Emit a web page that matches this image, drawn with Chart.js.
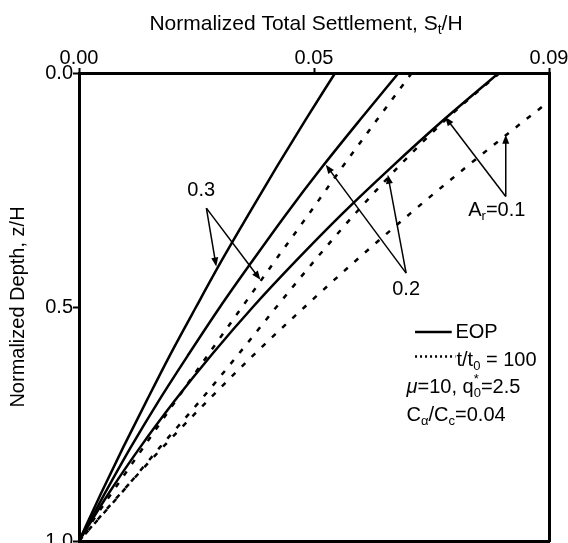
<!DOCTYPE html>
<html lang="en">
<head>
<meta charset="UTF-8">
<title>Normalized Total Settlement vs Depth</title>
<script src="https://cdn.jsdelivr.net/npm/chart.js"></script>
<style>
  body { margin: 0; background: #ffffff; }
  canvas { display: block; }
</style>
</head>
<body>
<canvas id="chart" width="568" height="543"></canvas>
<script>
// normalized depth z/H for every curve point
const depth = [0, 0.1, 0.2, 0.3, 0.4, 0.5, 0.6, 0.7, 0.8, 0.9, 1.0];

// EOP curves (solid), St/H
const eop03 = [0.0545, 0.0482, 0.0421, 0.0362, 0.0304, 0.0249, 0.0195, 0.0144, 0.0094, 0.0046, 0];
const eop02 = [0.0680, 0.0598, 0.0518, 0.0442, 0.0370, 0.0300, 0.0234, 0.0170, 0.0110, 0.0054, 0];
const eop01 = [0.0893, 0.0776, 0.0666, 0.0561, 0.0463, 0.0370, 0.0284, 0.0204, 0.0130, 0.0062, 0];

// t/t0 = 100 curves (dotted), St/H
const t100r03 = [0.0708, 0.0634, 0.0561, 0.0490, 0.0418, 0.0347, 0.0276, 0.0206, 0.0137, 0.0068, 0];
const t100r02 = [0.0895, 0.0780, 0.0680, 0.0588, 0.0502, 0.0420, 0.0340, 0.0258, 0.0172, 0.0088, 0];
const t100r01 = [0.1079, 0.0950, 0.0825, 0.0705, 0.0590, 0.0480, 0.0374, 0.0274, 0.0178, 0.0087, 0];

// axis ticks
const xTickValues = [0, 0.05, 0.1];
const xTickLabels = ['0.00', '0.05', '0.09'];
const yTickValues = [0, 0.5, 1];
const yTickLabels = ['0.0', '0.5', '1.0'];

const FONT = 'Liberation Sans, Arial, sans-serif';
Chart.defaults.font.family = FONT;
Chart.defaults.font.size = 20;
Chart.defaults.color = '#000';

function pairs(values) {
    return values.map((v, i) => ({ x: v, y: depth[i] }));
}

function curve(values, dotted) {
    return {
        data: pairs(values),
        showLine: true,
        borderColor: '#000',
        borderWidth: 2.5,
        borderDash: dotted ? [5, 9] : [],
        pointRadius: 0,
        cubicInterpolationMode: 'monotone',
        fill: false
    };
}

// callouts, in data units (St/H, z/H)
const callouts = [
    { label: [{ t: '0.3' }], at: [0.0260, 0.2506], from: [0.0271, 0.2887], tips: [[0.0292, 0.4135], [0.0386, 0.4420]] },
    { label: [{ t: '0.2' }], at: [0.0696, 0.4622], from: [0.0696, 0.4276], tips: [[0.0525, 0.1961], [0.0657, 0.2174]] },
    { label: [{ t: 'A' }, { t: 'r', sub: true }, { t: '=0.1' }], at: [0.0889, 0.2933], from: [0.0908, 0.2638], tips: [[0.0779, 0.0940], [0.0908, 0.1319]] }
];

function drawRich(ctx, x, y, parts, align, size) {
    size = size || 20;
    const small = Math.round(size * 0.65);
    const fontOf = p => (p.italic ? 'italic ' : '') + ((p.sub || p.sup) ? small : size) + 'px ' + FONT;
    let width = 0;
    parts.forEach(p => { ctx.font = fontOf(p); if (!p.stack) width += ctx.measureText(p.t).width; });
    let cx = align === 'center' ? x - width / 2 : x;
    ctx.textBaseline = 'middle';
    ctx.textAlign = 'left';
    parts.forEach(p => {
        ctx.font = fontOf(p);
        const dy = p.sub ? 6 : (p.sup ? -8 : 0);
        ctx.fillText(p.t, cx, y + dy);
        if (!p.stack) cx += ctx.measureText(p.t).width;
    });
}

function arrow(ctx, x0, y0, x1, y1) {
    const a = Math.atan2(y1 - y0, x1 - x0);
    const len = 9, half = 3.5;
    ctx.beginPath();
    ctx.moveTo(x0, y0);
    ctx.lineTo(x1 - Math.cos(a) * len * 0.5, y1 - Math.sin(a) * len * 0.5);
    ctx.stroke();
    ctx.beginPath();
    ctx.moveTo(x1, y1);
    ctx.lineTo(x1 - len * Math.cos(a) + half * Math.sin(a), y1 - len * Math.sin(a) - half * Math.cos(a));
    ctx.lineTo(x1 - len * Math.cos(a) - half * Math.sin(a), y1 - len * Math.sin(a) + half * Math.cos(a));
    ctx.closePath();
    ctx.fill();
}

const overlay = {
    id: 'overlay',
    afterDatasetsDraw(chart) {
        const { ctx, scales: { x, y }, chartArea } = chart;
        const px = (v, d) => [x.getPixelForValue(v), y.getPixelForValue(d)];
        ctx.save();
        ctx.fillStyle = '#000';
        ctx.strokeStyle = '#000';

        // top axis title
        drawRich(ctx, (chartArea.left + chartArea.right) / 2 - 8, 24,
            [{ t: 'Normalized Total Settlement, S' }, { t: 't', sub: true }, { t: '/H' }], 'center', 21);

        // callouts with arrows
        ctx.lineWidth = 1.5;
        callouts.forEach(c => {
            const [lx, ly] = px(c.at[0], c.at[1]);
            drawRich(ctx, lx, ly, c.label, 'center');
            const [fx, fy] = px(c.from[0], c.from[1]);
            c.tips.forEach(tp => {
                const [tx, ty] = px(tp[0], tp[1]);
                arrow(ctx, fx, fy, tx, ty);
            });
        });

        // legend
        const rows = [0.5553, 0.6141, 0.6729, 0.7317];
        const sampleStart = px(0.0715, 0)[0], sampleEnd = px(0.0793, 0)[0];
        const textX = px(0.0801, 0)[0], paramX = px(0.0697, 0)[0];
        ctx.lineWidth = 2.5;
        let yy = y.getPixelForValue(rows[0]);
        ctx.beginPath(); ctx.moveTo(sampleStart, yy - 1); ctx.lineTo(sampleEnd, yy - 1); ctx.stroke();
        drawRich(ctx, textX, yy, [{ t: 'EOP' }]);
        yy = y.getPixelForValue(rows[1]);
        ctx.setLineDash([2, 3]);
        ctx.beginPath(); ctx.moveTo(sampleStart, yy - 4); ctx.lineTo(px(0.0801, 0)[0], yy - 4); ctx.stroke();
        ctx.setLineDash([]);
        drawRich(ctx, textX + 1, yy, [{ t: 't/t' }, { t: '0', sub: true }, { t: ' = 100' }]);
        yy = y.getPixelForValue(rows[2]);
        drawRich(ctx, paramX, yy, [{ t: '\u03bc', italic: true }, { t: '=10, q' }, { t: '*', sup: true, stack: true }, { t: '0', sub: true }, { t: '=2.5' }]);
        yy = y.getPixelForValue(rows[3]);
        drawRich(ctx, paramX, yy, [{ t: 'C' }, { t: '\u03b1', sub: true }, { t: '/C' }, { t: 'c', sub: true }, { t: '=0.04' }]);
        ctx.restore();
    }
};

const frameAxis = {
    type: 'linear',
    display: true,
    grid: { display: false },
    ticks: { display: false },
    border: { display: true, color: '#000', width: 3 }
};

new Chart(document.getElementById('chart'), {
    type: 'scatter',
    data: {
        datasets: [
            curve(eop03, false),
            curve(eop02, false),
            curve(eop01, false),
            curve(t100r03, true),
            curve(t100r02, true),
            curve(t100r01, true)
        ]
    },
    options: {
        responsive: false,
        animation: false,
        layout: { padding: { left: 0, top: 0, right: 19, bottom: 2 } },
        plugins: { legend: { display: false }, tooltip: { enabled: false } },
        scales: {
            x: {
                type: 'linear',
                position: 'top',
                min: 0,
                max: 0.1,
                afterBuildTicks: s => { s.ticks = xTickValues.map(v => ({ value: v })); },
                afterFit: s => { s.height = 73; s.paddingLeft = 0; s.paddingRight = 0; },
                ticks: { padding: -2, maxRotation: 0, callback: (v, i) => xTickLabels[i] },
                grid: { display: true, drawOnChartArea: false, drawTicks: true, tickLength: 5, tickWidth: 2, tickColor: '#000' },
                border: { display: true, color: '#000', width: 3 }
            },
            y: {
                type: 'linear',
                position: 'left',
                reverse: true,
                min: 0,
                max: 1,
                afterBuildTicks: s => { s.ticks = yTickValues.map(v => ({ value: v })); },
                afterFit: s => { s.width = 79; s.paddingTop = 0; s.paddingBottom = 0; },
                ticks: { padding: 0, callback: (v, i) => yTickLabels[i] },
                grid: { display: true, drawOnChartArea: false, drawTicks: true, tickLength: 6, tickWidth: 2, tickColor: '#000' },
                border: { display: true, color: '#000', width: 3 },
                title: { display: true, text: 'Normalized Depth, z/H', padding: { top: 6, bottom: 0 } }
            },
            x2: Object.assign({}, frameAxis, { position: 'bottom', afterFit: s => { s.height = 0; } }),
            y2: Object.assign({}, frameAxis, { position: 'right', afterFit: s => { s.width = 0; } })
        }
    },
    plugins: [overlay]
});
</script>
</body>
</html>
